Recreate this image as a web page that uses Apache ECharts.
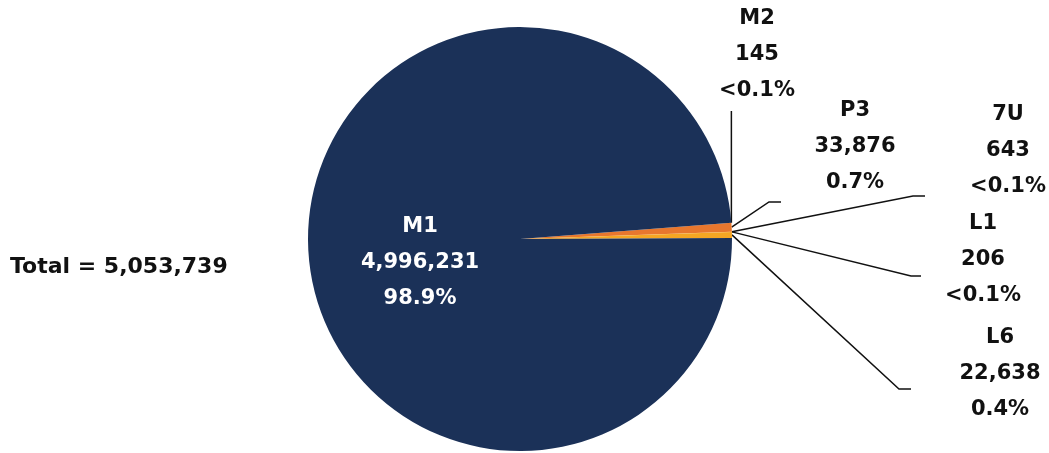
<!DOCTYPE html>
<html>
<head>
<meta charset="utf-8">
<script src="https://cdn.jsdelivr.net/npm/echarts@6/dist/echarts.min.js"></script>
<style>
  html, body { margin: 0; padding: 0; background: #ffffff; }
  #chart { width: 1049px; height: 453px; }
</style>
</head>
<body>
<div id="chart"></div>
<script>
// ---- data ----
const categories = ['M2', 'P3', '7U', 'L1', 'L6', 'M1'];
const values = [145, 33876, 643, 206, 22638, 4996231];
const percentLabels = ['<0.1%', '0.7%', '<0.1%', '<0.1%', '0.4%', '98.9%'];
const totalLabel = 'Total = 5,053,739';

// ---- styling ----
const colors = ['#e8772e', '#e8772e', '#e8772e', '#f5a623', '#f5a623', '#1b3158'];
const FONT = '"DejaVu Sans", "Open Sans", sans-serif';

// label placements (layout only): label centre and leader elbow/end
const labelPlace = {
  'M2': { x: 757, y: 55, vertical: 111 },
  'P3': { x: 855, y: 147, line: [[769, 202], [781, 202]] },
  '7U': { x: 1008, y: 151, line: [[913, 196], [925, 196]] },
  'L1': { x: 983, y: 260, line: [[911, 276], [921, 276]] },
  'L6': { x: 1000, y: 374, line: [[899, 389], [911, 389]] },
  'M1': { x: 420, y: 263 }
};

function fmt(v) { return v.toLocaleString('en-US'); }

const data = categories.map((c, i) => {
  const item = {
    name: c,
    value: values[i],
    itemStyle: { color: colors[i] }
  };
  if (c === 'M1') {
    item.label = { position: 'inside', color: '#ffffff' };
    item.labelLine = { show: false };
  }
  return item;
});

const chart = echarts.init(document.getElementById('chart'));
chart.setOption({
  animation: false,
  backgroundColor: '#ffffff',
  graphic: [{
    type: 'text',
    left: 10,
    top: 256,
    style: {
      text: totalLabel,
      font: 'bold 22px ' + FONT,
      fill: '#111111'
    }
  }],
  series: [{
    type: 'pie',
    center: [520, 239],
    radius: 212,
    startAngle: 4.4,
    clockwise: true,
    avoidLabelOverlap: false,
    data: data,
    itemStyle: { borderWidth: 0 },
    label: {
      show: true,
      position: 'outside',
      formatter: (p) => p.name + '\n' + fmt(p.value) + '\n' + percentLabels[p.dataIndex],
      fontFamily: FONT,
      fontWeight: 'bold',
      fontSize: 21,
      lineHeight: 36,
      color: '#111111',
      align: 'center'
    },
    labelLine: {
      show: true,
      lineStyle: { color: '#111111', width: 1.5 }
    },
    labelLayout: function (params) {
      const name = categories[params.dataIndex];
      const pl = labelPlace[name];
      const out = { x: pl.x, y: pl.y, align: 'center', verticalAlign: 'middle' };
      if (params.labelLinePoints) {
        const start = params.labelLinePoints[0];
        if (pl.line) {
          out.labelLinePoints = [start].concat(pl.line);
        } else if (pl.vertical !== undefined) {
          out.labelLinePoints = [start, [start[0], pl.vertical]];
        }
      }
      return out;
    }
  }]
});
</script>
</body>
</html>
